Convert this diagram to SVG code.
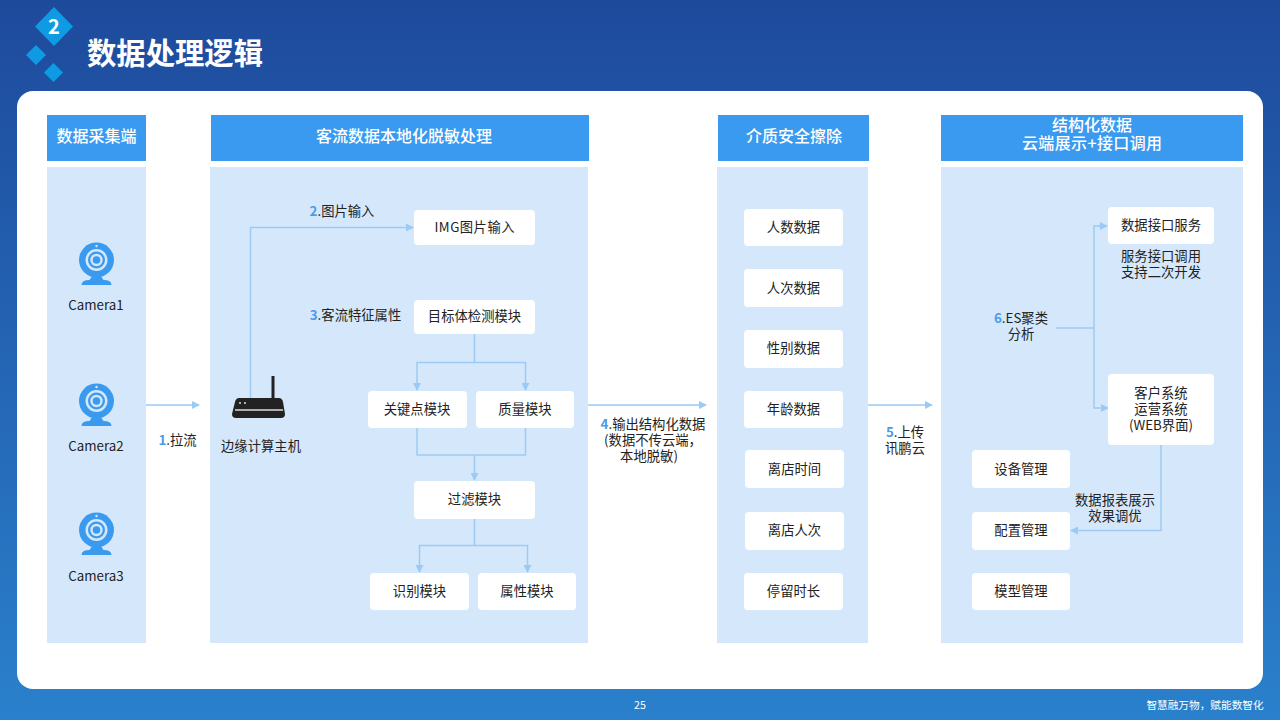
<svg xmlns="http://www.w3.org/2000/svg" width="1280" height="720" viewBox="0 0 1280 720">
<style>
text{font-family:"Noto Sans CJK SC","Noto Sans",sans-serif;font-size:13.33px;fill:#222;text-anchor:middle}
.box{fill:#fff}
.panel{fill:#d5e8fb}
.head{fill:#3a9af0}
.ht{fill:#fff;font-size:16px;font-weight:500}
.n{fill:#4a9be8;font-weight:700}
.line{fill:none;stroke:#9ccaf4;stroke-width:1.5}
.diamond{fill:#0f9be3}
.cam{fill:#3a9af0}
</style>
<defs>
<linearGradient id="bg" x1="0" y1="0" x2="0" y2="1"><stop offset="0" stop-color="#1e4a9c"/><stop offset="1" stop-color="#2a80cc"/></linearGradient>
<marker id="ah" viewBox="0 0 8 8" refX="7" refY="4" markerWidth="8" markerHeight="8" markerUnits="userSpaceOnUse" orient="auto"><path d="M0 0L8 4L0 8Z" fill="#9ccaf4"/></marker>
<g id="camera">
<circle cx="0.500" cy="-4" r="17.500" class="cam"/>
<circle cx="0.500" cy="-4" r="11" fill="#d5e8fb"/>
<circle cx="0.500" cy="-4" r="8.500" class="cam"/>
<circle cx="0.500" cy="-4" r="6.200" fill="#d5e8fb"/>
<circle cx="0.500" cy="-4" r="3.800" class="cam"/>
<circle cx="0.500" cy="-18" r="1.200" fill="#d5e8fb"/>
<path d="M-4.500 13H5.500L7.500 16Q15.500 16 15.500 21H-14.500Q-14.500 16-6.500 16Z" class="cam"/>
</g>
</defs>
<rect width="1280" height="720" fill="url(#bg)"/>
<g id="logo">
<path class="diamond" d="M54 7L73 26.500L54 46L35 26.500Z"/>
<path class="diamond" d="M36 45L46 55L36 65L26 55Z"/>
<path class="diamond" d="M53.500 63L63 72.500L53.500 82L44 72.500Z"/>
<text x="54" y="34" style="font-size:20px;font-weight:700;fill:#fff">2</text>
</g>
<text x="175" y="64" style="font-size:29.330px;font-weight:700;fill:#fff">数据处理逻辑</text>
<rect x="17" y="91" width="1246" height="598" rx="16" fill="#fff"/>
<g id="col1">
<rect class="head" x="47" y="115" width="99" height="46"/><text class="ht" x="96.500" y="142">数据采集端</text>
<rect class="panel" x="47" y="167" width="99" height="476"/>
</g>
<g id="col2">
<rect class="head" x="211" y="115" width="378" height="46"/><text class="ht" x="404" y="142">客流数据本地化脱敏处理</text>
<rect class="panel" x="210" y="167" width="378" height="476"/>
</g>
<g id="col3">
<rect class="head" x="718" y="115" width="151" height="46"/><text class="ht" x="794" y="142">介质安全擦除</text>
<rect class="panel" x="717" y="167" width="151" height="476"/>
</g>
<g id="col4">
<rect class="head" x="941" y="115" width="302" height="46"/><text class="ht" x="1092" y="131">结构化数据</text><text class="ht" x="1092" y="149" textLength="140">云端展示+接口调用</text>
<rect class="panel" x="941" y="167" width="302" height="476"/>
</g>
<g id="cam1"><use href="#camera" x="96" y="264"/><text x="96" y="310">Camera1</text></g>
<g id="cam2"><use href="#camera" x="96" y="405"/><text x="96" y="451">Camera2</text></g>
<g id="cam3"><use href="#camera" x="96" y="534"/><text x="96" y="581">Camera3</text></g>
<g id="host">
<path d="M271.500 376h3v24h-3z" fill="#222"/>
<path d="M239 398H279Q282 398 283 402L285 414Q285 418 281 418H236Q232 418 232 414L235 402Q236 398 239 398Z" fill="#222"/>
<path d="M235 410H283" stroke="#ddd" stroke-width="1.500"/>
<circle cx="240" cy="403" r="1" fill="#ddd"/><circle cx="245" cy="403" r="1" fill="#ddd"/>
<text x="261" y="451">边缘计算主机</text>
</g>
<g id="connectors">
<path class="line" d="M146 405H199" marker-end="url(#ah)"/>
<path class="line" d="M250.500 398V227.500H413" marker-end="url(#ah)"/>
<path class="line" d="M474.500 334V362.500"/>
<path class="line" d="M417 382V362.500H525.500V382"/>
<path class="line" d="M417 382V390" marker-end="url(#ah)"/>
<path class="line" d="M525.500 382V390" marker-end="url(#ah)"/>
<path class="line" d="M417 428V455H525.500V428"/>
<path class="line" d="M474.500 455V480" marker-end="url(#ah)"/>
<path class="line" d="M474.500 519V545.500"/>
<path class="line" d="M419.500 560V545.500H527.500V572" marker-end="url(#ah)"/>
<path class="line" d="M419.500 560V572" marker-end="url(#ah)"/>
<path class="line" d="M588 405H706" marker-end="url(#ah)"/>
<path class="line" d="M868 405H932" marker-end="url(#ah)"/>
<path class="line" d="M1056 328H1094"/>
<path class="line" d="M1100 226H1094V408H1108" marker-end="url(#ah)"/>
<path class="line" d="M1098 226H1107" marker-end="url(#ah)"/>
<path class="line" d="M1161 445V530.500H1071" marker-end="url(#ah)"/>
</g>
<g id="labels">
<text x="177.500" y="445"><tspan class="n">1</tspan>.拉流</text>
<text x="342" y="216"><tspan class="n">2</tspan>.图片输入</text>
<text x="355.500" y="320"><tspan class="n">3</tspan>.客流特征属性</text>
<text x="653" y="429"><tspan class="n">4</tspan>.输出结构化数据</text>
<text x="653" y="445">(数据不传云端，</text>
<text x="649" y="461">本地脱敏)</text>
<text x="905" y="437"><tspan class="n">5</tspan>.上传</text>
<text x="905" y="453">讯鹏云</text>
<text x="1021" y="323"><tspan class="n">6</tspan>.ES聚类</text>
<text x="1021" y="339">分析</text>
<text x="1161" y="261">服务接口调用</text>
<text x="1161" y="277">支持二次开发</text>
<text x="1115" y="505">数据报表展示</text>
<text x="1115" y="521">效果调优</text>
</g>
<g id="n-img"><rect class="box" x="414" y="210" width="121" height="35" rx="4"/><text x="474.500" y="232" textLength="80">IMG图片输入</text></g>
<g id="n-detect"><rect class="box" x="414" y="300" width="121" height="34" rx="4"/><text x="474.500" y="321">目标体检测模块</text></g>
<g id="n-key"><rect class="box" x="368" y="391" width="99" height="37" rx="4"/><text x="417" y="414">关键点模块</text></g>
<g id="n-quality"><rect class="box" x="476" y="391" width="98" height="37" rx="4"/><text x="525" y="414">质量模块</text></g>
<g id="n-filter"><rect class="box" x="414" y="481" width="121" height="38" rx="4"/><text x="474.500" y="504">过滤模块</text></g>
<g id="n-id"><rect class="box" x="370" y="573" width="99" height="37" rx="4"/><text x="419.500" y="596">识别模块</text></g>
<g id="n-attr"><rect class="box" x="478" y="573" width="98" height="37" rx="4"/><text x="527" y="596">属性模块</text></g>
<g id="n-d1"><rect class="box" x="744" y="209" width="99" height="37" rx="4"/><text x="793.500" y="232">人数数据</text></g>
<g id="n-d2"><rect class="box" x="744" y="269" width="99" height="38" rx="4"/><text x="793.500" y="293">人次数据</text></g>
<g id="n-d3"><rect class="box" x="744" y="330" width="99" height="38" rx="4"/><text x="793.500" y="353">性别数据</text></g>
<g id="n-d4"><rect class="box" x="744" y="391" width="99" height="37" rx="4"/><text x="793.500" y="414">年龄数据</text></g>
<g id="n-d5"><rect class="box" x="745" y="450" width="99" height="38" rx="4"/><text x="794.500" y="474">离店时间</text></g>
<g id="n-d6"><rect class="box" x="745" y="512" width="99" height="38" rx="4"/><text x="794.500" y="535">离店人次</text></g>
<g id="n-d7"><rect class="box" x="744" y="573" width="99" height="37" rx="4"/><text x="793.500" y="596">停留时长</text></g>
<g id="n-api"><rect class="box" x="1108" y="207" width="106" height="37" rx="4"/><text x="1161" y="230">数据接口服务</text></g>
<g id="n-web"><rect class="box" x="1108" y="374" width="106" height="71" rx="4"/><text x="1161" y="398">客户系统</text><text x="1161" y="414">运营系统</text><text x="1161" y="430">(WEB界面)</text></g>
<g id="n-dev"><rect class="box" x="972" y="450" width="98" height="38" rx="4"/><text x="1021" y="474">设备管理</text></g>
<g id="n-conf"><rect class="box" x="972" y="512" width="98" height="38" rx="4"/><text x="1021" y="535">配置管理</text></g>
<g id="n-model"><rect class="box" x="972" y="573" width="98" height="37" rx="4"/><text x="1021" y="596">模型管理</text></g>
<text x="640" y="709" style="font-size:10.670px;fill:#fff">25</text>
<text x="1205" y="709" style="font-size:10.670px;fill:#fff">智慧融万物，赋能数智化</text>
</svg>
